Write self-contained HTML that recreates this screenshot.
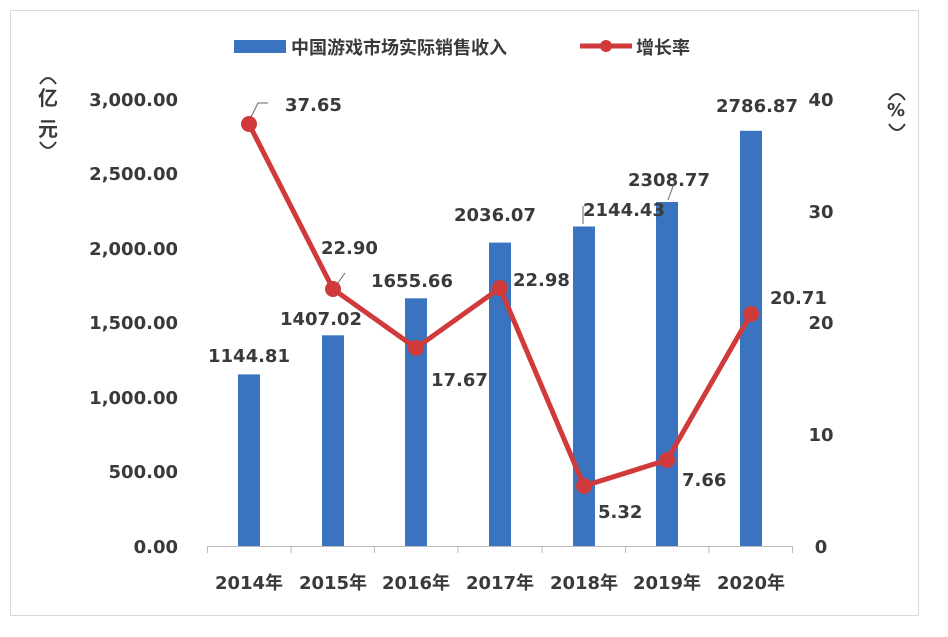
<!DOCTYPE html>
<html><head><meta charset="utf-8"><style>
body{margin:0;background:#fff;}
svg text{font-family:"DejaVu Sans","Noto Sans CJK SC",sans-serif;fill:#3a3a3a;font-weight:bold;}
svg text.cjk{font-family:"Noto Sans CJK SC",sans-serif;}
</style></head><body>
<svg width="948" height="632" viewBox="0 0 948 632" xmlns="http://www.w3.org/2000/svg">
<rect x="0" y="0" width="948" height="632" fill="#fff"/>
<rect x="10.5" y="10.5" width="908" height="605" fill="#fff" stroke="#d8d8d8" stroke-width="1"/>
<!-- legend -->
<rect x="234" y="40" width="52" height="13" fill="#3a74c0"/>
<text class="cjk" x="291" y="54" font-size="18">中国游戏市场实际销售收入</text>
<line x1="580" y1="46" x2="632" y2="46" stroke="#d03a3a" stroke-width="5"/>
<circle cx="606" cy="46" r="6" fill="#d03a3a"/>
<text class="cjk" x="636" y="54" font-size="18">增长率</text>
<!-- axis titles -->
<g stroke="#3a3a3a" stroke-width="2" fill="none">
<path d="M40,84 Q48,72 56,84"/>
<path d="M40,142 Q48,154 56,142"/>
<path d="M889,100 Q897,88 905,100"/>
<path d="M889,124 Q897,136 905,124"/>
</g>
<text class="cjk" x="38" y="105" font-size="20">亿</text>
<text class="cjk" x="38" y="136" font-size="20">元</text>
<text x="887" y="116" font-size="18">%</text>
<!-- left ticks -->
<g font-size="18" text-anchor="end">
<text x="178" y="106">3,000.00</text>
<text x="178" y="180">2,500.00</text>
<text x="178" y="255">2,000.00</text>
<text x="178" y="329">1,500.00</text>
<text x="178" y="404">1,000.00</text>
<text x="178" y="478">500.00</text>
<text x="178" y="553">0.00</text>
</g>
<g font-size="18" text-anchor="middle">
<text x="821" y="106">40</text>
<text x="821" y="218">30</text>
<text x="821" y="329">20</text>
<text x="821" y="441">10</text>
<text x="821" y="553">0</text>
</g>
<!-- bars -->
<g fill="#3a74c0">
<rect x="238" y="374.4" width="22" height="171.6"/>
<rect x="322" y="335.3" width="22" height="210.7"/>
<rect x="405" y="298.3" width="22" height="247.7"/>
<rect x="489" y="242.6" width="22" height="303.4"/>
<rect x="573" y="226.5" width="22" height="319.5"/>
<rect x="656" y="202" width="22" height="344"/>
<rect x="740" y="130.8" width="22" height="415.2"/>
</g>
<!-- x axis -->
<line x1="207" y1="546.5" x2="793" y2="546.5" stroke="#bbb" stroke-width="1"/>
<g stroke="#bbb" stroke-width="1">
<line x1="207.5" y1="546" x2="207.5" y2="553"/><line x1="291" y1="546" x2="291" y2="553"/>
<line x1="374.5" y1="546" x2="374.5" y2="553"/><line x1="458" y1="546" x2="458" y2="553"/>
<line x1="542" y1="546" x2="542" y2="553"/><line x1="625.5" y1="546" x2="625.5" y2="553"/>
<line x1="709" y1="546" x2="709" y2="553"/><line x1="792.5" y1="546" x2="792.5" y2="553"/>
</g>
<g font-size="18" text-anchor="middle">
<text x="249" y="589">2014<tspan style="font-family:'Noto Sans CJK SC',sans-serif">年</tspan></text>
<text x="333" y="589">2015<tspan style="font-family:'Noto Sans CJK SC',sans-serif">年</tspan></text>
<text x="416" y="589">2016<tspan style="font-family:'Noto Sans CJK SC',sans-serif">年</tspan></text>
<text x="500" y="589">2017<tspan style="font-family:'Noto Sans CJK SC',sans-serif">年</tspan></text>
<text x="584" y="589">2018<tspan style="font-family:'Noto Sans CJK SC',sans-serif">年</tspan></text>
<text x="667" y="589">2019<tspan style="font-family:'Noto Sans CJK SC',sans-serif">年</tspan></text>
<text x="751" y="589">2020<tspan style="font-family:'Noto Sans CJK SC',sans-serif">年</tspan></text>
</g>
<!-- bar labels -->
<g font-size="18" text-anchor="middle">
<text x="249" y="362">1144.81</text>
<text x="321" y="325">1407.02</text>
<text x="412" y="287">1655.66</text>
<text x="495" y="221">2036.07</text>
<text x="624" y="216">2144.43</text>
<text x="669" y="186">2308.77</text>
<text x="757" y="112">2786.87</text>
</g>
<!-- leader lines -->
<g stroke="#666" stroke-width="1" fill="none">
<polyline points="251,117 258,103 268,103"/>
<polyline points="335,287 345,273"/>
<polyline points="583,224 583,206"/>
<polyline points="668,200 676,178"/>
</g>
<!-- line -->
<polyline points="249,124 333,289 416,348 500,288 584,486 667,460 751,314" fill="none" stroke="#d03a3a" stroke-width="5" stroke-linejoin="round"/>
<g fill="#d03a3a">
<circle cx="249" cy="124" r="8"/><circle cx="333" cy="289" r="8"/><circle cx="416" cy="348" r="8"/>
<circle cx="500" cy="288" r="8"/><circle cx="584" cy="486" r="8"/><circle cx="667" cy="460" r="8"/>
<circle cx="751" cy="314" r="8"/>
</g>
<g font-size="18">
<text x="285" y="111">37.65</text>
<text x="321" y="254">22.90</text>
<text x="431" y="386">17.67</text>
<text x="513" y="286">22.98</text>
<text x="598" y="518">5.32</text>
<text x="682" y="486">7.66</text>
<text x="770" y="304">20.71</text>
</g>
</svg>
</body></html>
